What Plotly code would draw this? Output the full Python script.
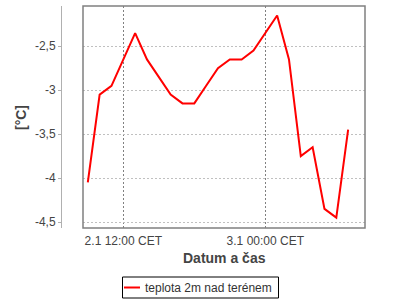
import plotly.graph_objects as go
import pandas as pd

times = pd.date_range("2024-01-02 09:00", periods=23, freq="h")
temps = [-4.05, -3.05, -2.95, -2.65, -2.35, -2.65, -2.85, -3.05, -3.15, -3.15,
         -2.95, -2.75, -2.65, -2.65, -2.55, -2.35, -2.15, -2.65, -3.75, -3.65,
         -4.35, -4.45, -3.45]
series_name = "teplota 2m nad terénem"
x_tickvals = ["2024-01-02 12:00", "2024-01-03 00:00"]
x_ticktext = ["2.1 12:00 CET", "3.1 00:00 CET"]
y_tickvals = [-2.5, -3, -3.5, -4, -4.5]
y_ticktext = ["-2,5", "-3", "-3,5", "-4", "-4,5"]

W, H = 400, 300
RED = "#ff0000"
fig = go.Figure()
fig.add_trace(go.Scatter(x=times, y=temps, mode="lines", name=series_name,
                         line=dict(color=RED, width=2), showlegend=False))

def px(x):
    return x / W

def py(y):
    return (H - y) / H

font = dict(family="Liberation Sans, Arial, sans-serif", size=12, color="#444444")
fig.update_layout(
    width=W, height=H, margin=dict(l=0, r=0, t=0, b=0, autoexpand=False),
    paper_bgcolor="white", plot_bgcolor="white", font=font,
    showlegend=False,
    xaxis=dict(domain=[px(83), px(365)], automargin=False,
               range=["2024-01-02 08:35:38", "2024-01-03 08:25:30"],
               tickvals=x_tickvals, ticktext=x_ticktext,
               showgrid=True, gridcolor="#808080", griddash="2px,2px", gridwidth=1,
               zeroline=False, showline=False, ticks="", ticklabelstandoff=4,
               tickfont=dict(size=12, color="#444444")),
    yaxis=dict(domain=[py(228), py(6)], anchor="free", position=px(61), automargin=False,
               range=[-4.568, -2.042],
               tickvals=y_tickvals, ticktext=y_ticktext,
               showgrid=True, gridcolor="#c0c0c0", griddash="2px,2px", gridwidth=1,
               zeroline=False, showline=True, linecolor="#b0b0b0", linewidth=1,
               ticks="outside", ticklen=3, tickcolor="#b0b0b0",
               tickfont=dict(size=12, color="#444444")),
    shapes=[
        dict(type="rect", xref="x domain", yref="y domain", x0=0, x1=1, y0=0, y1=1,
             line=dict(color="#808080", width=1.5), layer="above"),
        # legend box and sample
        dict(type="rect", xref="paper", yref="paper", x0=px(122.5), x1=px(278.5),
             y0=py(298), y1=py(277), line=dict(color="black", width=1)),
        dict(type="line", xref="paper", yref="paper", x0=px(124), x1=px(140),
             y0=py(287.5), y1=py(287.5), line=dict(color=RED, width=2)),
    ],
    annotations=[
        dict(text="<b>Datum a čas</b>", xref="paper", yref="paper", x=px(224), y=py(258),
             xanchor="center", yanchor="middle", showarrow=False,
             font=dict(size=14, color="#444444")),
        dict(text="<b>[°C]</b>", xref="paper", yref="paper", x=px(21), y=py(118),
             xanchor="center", yanchor="middle", showarrow=False, textangle=-90,
             font=dict(size=14, color="#444444")),
        dict(text=series_name, xref="paper", yref="paper", x=px(143), y=py(287.5),
             xanchor="left", yanchor="middle", showarrow=False,
             font=dict(size=12, color="#333333")),
    ],
)
fig.write_html("out.html")
